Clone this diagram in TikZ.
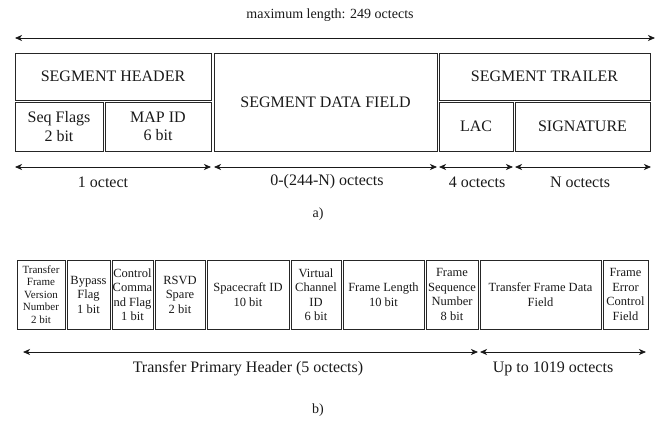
\documentclass[tikz,border=0pt]{standalone}
\usepackage{fontspec}
\setmainfont{Liberation Serif}
\usetikzlibrary{arrows.meta}
\tikzset{
  box/.style={draw=black!85, line width=0.8pt, inner sep=0pt, align=center, text=black!90},
  boxa/.style={box, font=\fontsize{16}{18.5}\selectfont},
  boxb/.style={box, font=\fontsize{12.5}{14.5}\selectfont, minimum height=69pt},
  lbl/.style={inner sep=0pt, text=black!90, font=\fontsize{16}{18}\selectfont},
  dim/.style={line width=0.8pt, black!90, {Stealth[length=7pt,width=6pt,inset=2pt]}-{Stealth[length=7pt,width=6pt,inset=2pt]}}
}
\begin{document}
\begin{tikzpicture}[x=1pt,y=-1pt]
\useasboundingbox (0,0) rectangle (659,423);
% title
\node[lbl, font=\fontsize{14}{16}\selectfont] (title) at (330,15) {maximum length: 249 octects};
\coordinate (tl) at (15,38);
\coordinate (tr) at (655,38);
\draw[dim] (tl) -- (tr);
% part a boxes
\node[boxa, minimum width=196pt, minimum height=47pt] (hdr) at (113,76.5) {SEGMENT HEADER};
\node[boxa, minimum width=88pt, minimum height=49pt] (seq) at (59,126.5) {Seq Flags\\2 bit};
\node[boxa, minimum width=106pt, minimum height=49pt] (map) at (158,126.5) {MAP ID\\6 bit};
\node[boxa, minimum width=223pt, minimum height=98pt] (data) at (325.5,102) {SEGMENT DATA FIELD};
\node[boxa, minimum width=211pt, minimum height=47pt] (trl) at (544.5,76.5) {SEGMENT TRAILER};
\node[boxa, minimum width=74pt, minimum height=49pt] (lac) at (476,126.5) {LAC};
\node[boxa, minimum width=135pt, minimum height=49pt] (sig) at (582.5,126.5) {SIGNATURE};
% part a dimension arrows
\coordinate (a1) at (15,167); \coordinate (a2) at (211,167);
\coordinate (a3) at (214,167); \coordinate (a4) at (437,167);
\coordinate (a5) at (439,167); \coordinate (a6) at (513,167);
\coordinate (a7) at (515,167); \coordinate (a8) at (651,167);
\draw[dim] (a1) -- (a2);
\draw[dim] (a3) -- (a4);
\draw[dim] (a5) -- (a6);
\draw[dim] (a7) -- (a8);
\node[lbl] (l1) at (103,182) {1 octect};
\node[lbl] (l2) at (327,182) {0-(244-N) octects};
\node[lbl] (l3) at (477,182) {4 octects};
\node[lbl] (l4) at (580,182) {N octects};
\node[lbl, font=\fontsize{14}{16}\selectfont] (capa) at (318,214) {a)};
% part b boxes
\node[boxb, minimum width=48pt, font=\fontsize{11}{12.5}\selectfont] (tfvn) at (41,294.5) {Transfer\\Frame\\Version\\Number\\2 bit};
\node[boxb, minimum width=43pt] (byp) at (88.5,294.5) {Bypass\\Flag\\1 bit};
\node[boxb, minimum width=41pt] (ccf) at (132.5,294.5) {Control\\Comma\\nd Flag\\1 bit};
\node[boxb, minimum width=50pt] (rsvd) at (180,294.5) {RSVD\\Spare\\2 bit};
\node[boxb, minimum width=82pt] (scid) at (248,294.5) {Spacecraft ID\\10 bit};
\node[boxb, minimum width=50pt] (vcid) at (316,294.5) {Virtual\\Channel\\ID\\6 bit};
\node[boxb, minimum width=81pt] (flen) at (383.5,294.5) {Frame Length\\10 bit};
\node[boxb, minimum width=52pt] (fsn) at (452,294.5) {Frame\\Sequence\\Number\\8 bit};
\node[boxb, minimum width=121pt] (tfdf) at (540.5,294.5) {Transfer Frame Data\\Field};
\node[boxb, minimum width=45pt] (fecf) at (625.5,294.5) {Frame\\Error\\Control\\Field};
% part b dimension arrows
\coordinate (b1) at (23,352); \coordinate (b2) at (478,352);
\coordinate (b3) at (480,352); \coordinate (b4) at (646,352);
\draw[dim] (b1) -- (b2);
\draw[dim] (b3) -- (b4);
\node[lbl] (l5) at (248,369) {Transfer Primary Header (5 octects)};
\node[lbl] (l6) at (553,369) {Up to 1019 octects};
\node[lbl, font=\fontsize{14}{16}\selectfont] (capb) at (318,410) {b)};
\end{tikzpicture}
\end{document}
